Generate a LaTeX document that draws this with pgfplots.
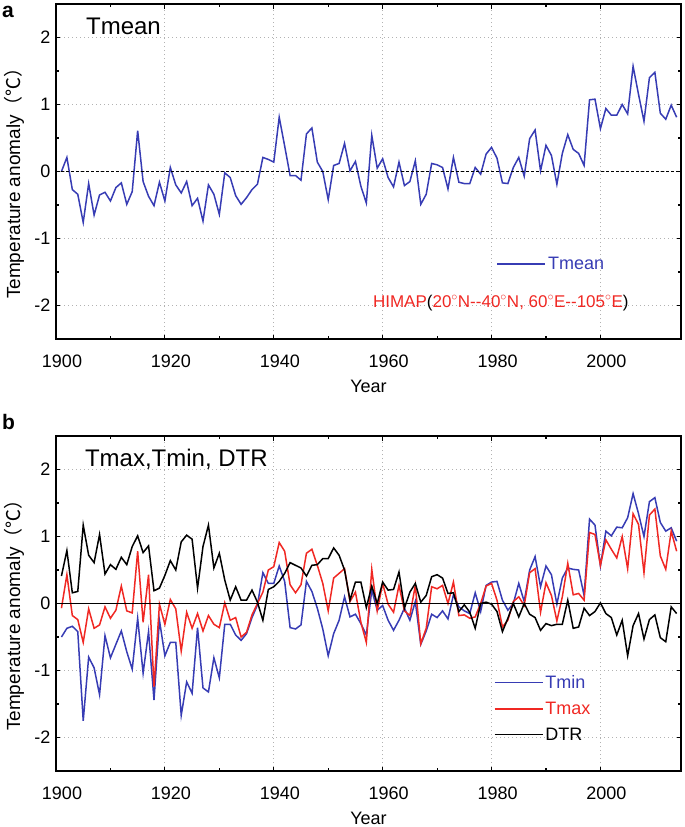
\documentclass[border=0pt]{standalone}
\usepackage{pgfplots}
\pgfplotsset{compat=1.18}
\usepackage{pgfplotstable}
\usepackage{fontspec}
\setmainfont{Liberation Sans}
\newfontfamily\cjk{Noto Sans CJK SC}
\definecolor{tblue}{RGB}{55,60,180}
\definecolor{tred}{RGB}{240,40,35}

\pgfplotstableread{
year tmean
1901 0.00
1902 0.21
1903 -0.27
1904 -0.34
1905 -0.76
1906 -0.18
1907 -0.65
1908 -0.35
1909 -0.31
1910 -0.44
1911 -0.24
1912 -0.17
1913 -0.49
1914 -0.30
1915 0.61
1916 -0.15
1917 -0.37
1918 -0.51
1919 -0.16
1920 -0.44
1921 0.06
1922 -0.20
1923 -0.32
1924 -0.15
1925 -0.51
1926 -0.40
1927 -0.74
1928 -0.20
1929 -0.34
1930 -0.64
1931 -0.02
1932 -0.09
1933 -0.36
1934 -0.49
1935 -0.39
1936 -0.27
1937 -0.19
1938 0.21
1939 0.18
1940 0.14
1941 0.81
1942 0.38
1943 -0.06
1944 -0.06
1945 -0.13
1946 0.56
1947 0.65
1948 0.14
1949 0.00
1950 -0.42
1951 0.09
1952 0.12
1953 0.42
1954 0.01
1955 0.15
1956 -0.22
1957 -0.47
1958 0.54
1959 0.05
1960 0.19
1961 -0.09
1962 -0.23
1963 0.14
1964 -0.21
1965 -0.15
1966 0.16
1967 -0.49
1968 -0.34
1969 0.12
1970 0.10
1971 0.06
1972 -0.26
1973 0.21
1974 -0.16
1975 -0.18
1976 -0.18
1977 0.06
1978 -0.04
1979 0.26
1980 0.36
1981 0.20
1982 -0.17
1983 -0.18
1984 0.06
1985 0.21
1986 -0.07
1987 0.49
1988 0.62
1989 0.01
1990 0.39
1991 0.24
1992 -0.19
1993 0.27
1994 0.55
1995 0.33
1996 0.27
1997 0.09
1998 1.07
1999 1.08
2000 0.64
2001 0.94
2002 0.84
2003 0.84
2004 1.00
2005 0.86
2006 1.57
2007 1.15
2008 0.75
2009 1.40
2010 1.48
2011 0.87
2012 0.78
2013 0.99
2014 0.81
}\tmeantab

\pgfplotstableread{
year tmin tmax dtr
1901 -0.50 -0.07 0.41
1902 -0.37 0.43 0.79
1903 -0.34 -0.18 0.16
1904 -0.42 -0.24 0.18
1905 -1.75 -0.58 1.17
1906 -0.80 -0.08 0.72
1907 -0.96 -0.37 0.61
1908 -1.36 -0.32 1.03
1909 -0.48 -0.05 0.44
1910 -0.81 -0.22 0.58
1911 -0.61 -0.10 0.51
1912 -0.41 0.26 0.69
1913 -0.72 -0.11 0.58
1914 -0.98 -0.14 0.85
1915 -0.22 0.78 1.01
1916 -1.04 -0.28 0.76
1917 -0.42 0.43 0.86
1918 -1.44 -1.24 0.19
1919 -0.25 -0.01 0.23
1920 -0.78 -0.31 0.42
1921 -0.58 0.06 0.64
1922 -0.58 -0.08 0.50
1923 -1.67 -0.71 0.92
1924 -1.17 -0.13 1.02
1925 -1.34 -0.37 0.96
1926 -0.36 -0.15 0.23
1927 -1.26 -0.41 0.85
1928 -1.32 -0.18 1.17
1929 -0.81 -0.31 0.53
1930 -1.11 -0.36 0.75
1931 -0.31 0.01 0.35
1932 -0.31 -0.25 0.05
1933 -0.47 -0.21 0.25
1934 -0.55 -0.50 0.05
1935 -0.45 -0.43 0.05
1936 -0.21 -0.17 0.20
1937 -0.02 0.00 0.02
1938 0.46 0.17 -0.25
1939 0.30 0.50 0.21
1940 0.30 0.55 0.25
1941 0.56 0.91 0.33
1942 0.33 0.78 0.45
1943 -0.36 0.28 0.61
1944 -0.38 0.16 0.57
1945 -0.32 0.28 0.53
1946 0.33 0.75 0.41
1947 0.18 0.81 0.57
1948 -0.07 0.57 0.58
1949 -0.38 0.30 0.67
1950 -0.78 -0.11 0.67
1951 -0.45 0.38 0.83
1952 -0.25 0.45 0.72
1953 0.10 0.52 0.50
1954 -0.20 0.03 0.05
1955 -0.16 0.17 0.32
1956 -0.30 -0.28 0.32
1957 -0.47 -0.58 -0.06
1958 0.20 0.51 0.26
1959 -0.10 -0.11 0.00
1960 -0.03 0.30 0.32
1961 -0.25 -0.01 0.20
1962 -0.40 -0.13 0.21
1963 -0.25 0.27 0.47
1964 -0.07 -0.11 -0.07
1965 -0.25 -0.18 0.17
1966 0.03 0.27 0.30
1967 -0.61 -0.60 0.02
1968 -0.41 -0.37 0.12
1969 -0.16 0.25 0.40
1970 -0.21 0.22 0.43
1971 -0.11 0.27 0.38
1972 -0.23 0.00 0.15
1973 0.13 0.32 0.16
1974 -0.05 -0.18 -0.12
1975 -0.11 -0.17 -0.02
1976 -0.15 -0.22 -0.13
1977 0.16 -0.20 -0.37
1978 -0.12 0.00 0.00
1979 0.27 0.26 0.02
1980 0.32 0.30 -0.01
1981 0.33 0.05 -0.12
1982 0.05 -0.35 -0.42
1983 -0.10 -0.25 -0.22
1984 0.00 0.03 0.00
1985 0.30 0.10 -0.20
1986 0.03 -0.03 0.00
1987 0.50 0.46 -0.16
1988 0.70 0.52 -0.21
1989 0.25 -0.13 -0.40
1990 0.56 0.31 -0.30
1991 0.43 0.12 -0.33
1992 -0.01 -0.26 -0.31
1993 0.38 0.10 -0.31
1994 0.53 0.60 0.05
1995 0.51 0.13 -0.37
1996 0.50 0.15 -0.35
1997 0.12 0.05 -0.07
1998 1.26 1.06 -0.18
1999 1.17 1.03 -0.12
2000 0.56 0.57 0.01
2001 1.08 0.95 -0.15
2002 1.01 0.81 -0.21
2003 1.14 0.68 -0.47
2004 1.13 1.00 -0.25
2005 1.28 0.52 -0.78
2006 1.64 1.34 -0.33
2007 1.34 1.18 -0.15
2008 1.00 0.46 -0.53
2009 1.52 1.32 -0.24
2010 1.58 1.41 -0.17
2011 1.21 0.71 -0.51
2012 1.08 0.51 -0.57
2013 1.13 1.08 -0.05
2014 0.93 0.78 -0.15
}\bdata

\pgfplotsset{
  panel/.style={
    scale only axis, width=625pt, height=335pt,
    xmin=1900, xmax=2014.8, ymin=-2.5, ymax=2.5,
    xtick={1900,1920,...,2000}, minor x tick num=1,
    ytick={-2,-1,0,1,2}, minor y tick num=1,
    /pgf/number format/1000 sep={},
    /pgf/number format/assume math mode=true,
    tick label style={font=\fontsize{18}{20}\selectfont},
    xticklabel style={xshift=6pt, yshift=-12pt},
    yticklabel style={xshift=-2pt},
    axis line style={line width=1.8pt},
    major tick length=4.5pt, minor tick length=3pt,
    every tick/.style={black, line width=1.2pt},
    grid=major,
    major grid style={gray!60, line width=0.8pt, dash pattern=on 1pt off 3pt},
    xlabel={Year},
    xlabel style={font=\fontsize{18}{20}\selectfont, at={(axis description cs:0.5,-0.14)}, anchor=center},
    ylabel={Temperature anomaly{\cjk （℃）}},
    ylabel style={font=\fontsize{19}{21}\selectfont, at={(axis description cs:-0.0672,0.479)}, anchor=center},
    legend style={draw=none, fill=none, inner sep=0pt, font=\fontsize{18}{20}\selectfont, row sep=8pt, cells={anchor=west}},
    legend image code/.code={\draw[#1, line width=1.5pt] (0pt,0pt) -- (48pt,0pt);},
  }
}

\begin{document}
\begin{tikzpicture}
\path[use as bounding box] (0pt,0pt) rectangle (685pt,-827pt);

\node[anchor=base west, inner sep=0pt, font=\bfseries\fontsize{21}{23}\selectfont] at (2pt,-17pt) {a};
\node[anchor=base west, inner sep=0pt, font=\bfseries\fontsize{21}{23}\selectfont] at (2pt,-429pt) {b};

\begin{axis}[panel, at={(56pt,-4pt)}, anchor=north west,
  legend style={at={(axis cs:1980.9,-1.38)}, anchor=west}]
  \addplot[tblue, line width=1.5pt] table[x=year, y=tmean] {\tmeantab};
  \addlegendentry{\textcolor{tblue}{Tmean}}
  \addplot[black, line width=1.5pt, dash pattern=on 3pt off 2pt, forget plot] coordinates {(1900,0) (2014.8,0)};
  \node[anchor=base west, inner sep=0pt, font=\fontsize{24}{26}\selectfont] at (axis cs:1905.5,2.04) {Tmean};
  \node[anchor=west, inner sep=0pt, text=tred, font=\fontsize{17}{19}\selectfont] at (axis cs:1958.2,-1.96)
    {HIMAP\textcolor{black}{(}20$^{\circ}$N-{}-40$^{\circ}$N, 60$^{\circ}$E-{}-105$^{\circ}$E\textcolor{black}{)}};
\end{axis}

\begin{axis}[panel, at={(56pt,-436pt)}, anchor=north west,
  legend style={at={(axis cs:1980.4,-1.567)}, anchor=west}]
  \addplot[tblue, line width=1.5pt] table[x=year, y=tmin] {\bdata};
  \addlegendentry{\textcolor{tblue}{Tmin}}
  \addplot[tred, line width=1.5pt] table[x=year, y=tmax] {\bdata};
  \addlegendentry{\textcolor{tred}{Tmax}}
  \addplot[black, line width=1.5pt] table[x=year, y=dtr] {\bdata};
  \addlegendentry{DTR}
  \addplot[black, line width=1.5pt, forget plot] coordinates {(1900,0) (2014.8,0)};
  \node[anchor=base west, inner sep=0pt, font=\fontsize{24}{26}\selectfont] at (axis cs:1905.3,2.04) {Tmax,Tmin, DTR};
\end{axis}
\end{tikzpicture}
\end{document}
